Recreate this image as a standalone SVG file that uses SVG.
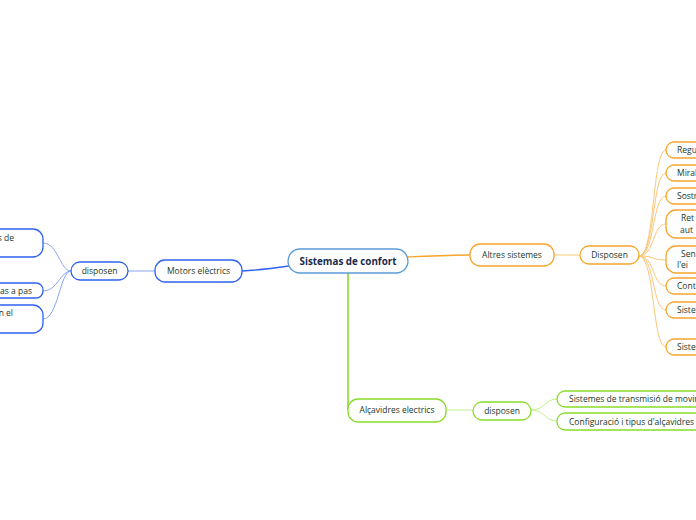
<svg xmlns="http://www.w3.org/2000/svg" width="696" height="520" viewBox="0 0 696 520">
<style>
text{font-family:"Open Sans","Noto Sans","Liberation Sans",sans-serif;font-size:8.5px;fill:#1b3829}
.b rect{fill:#fff;stroke:#2f62f0;stroke-width:1.3}
.o rect{fill:#fff;stroke:#f7a52b;stroke-width:1.3}
.g rect{fill:#fff;stroke:#8bdc2a;stroke-width:1.3}
.c{fill:none}
.cb{stroke:#2f62f0;stroke-width:1.4}
.cbl{stroke:#8aa6f5;stroke-width:1}
.co{stroke:#f7a52b;stroke-width:1.4}
.col{stroke:#fbc67a;stroke-width:1}
.cg{stroke:#8bdc2a;stroke-width:1.6}
.cgl{stroke:#c2ee8d;stroke-width:1}
</style>
<g id="connectors" class="c">
<path class="cb" d="M242,271 C260,270 275,268 289,266"/>
<path class="cbl" d="M128,271 H155"/>
<path class="cbl" d="M71,271 C60,271 58,243 43,243"/>
<path class="cbl" d="M71,271 C60,271 58,291 43,291"/>
<path class="cbl" d="M71,271 C60,271 58,319 43,319"/>
<path class="co" d="M407,257 C430,256 450,255 470,255"/>
<path class="col" d="M554,255 H580"/>
<path class="col" d="M639,256 C655,256 652,150 666,150"/>
<path class="col" d="M639,256 C655,256 652,173 666,173"/>
<path class="col" d="M639,256 C655,256 652,196 666,196"/>
<path class="col" d="M639,256 C655,256 652,224 666,224"/>
<path class="col" d="M639,256 C655,256 652,260 666,260"/>
<path class="col" d="M639,256 C655,256 652,286 666,286"/>
<path class="col" d="M639,256 C655,256 652,310 666,310"/>
<path class="col" d="M639,256 C655,256 652,347 666,347"/>
<path class="cg" d="M348,273 V410"/>
<path class="cgl" d="M446,410 H473"/>
<path class="cgl" d="M531,410 C545,410 545,399 557,399"/>
<path class="cgl" d="M531,410 C545,410 545,421 557,421"/>
</g>
<g id="central"><rect x="288" y="249" width="120" height="24" rx="12" fill="#fff" stroke="#5b9bd5" stroke-width="1.3"/><text x="348" y="265" text-anchor="middle" style="font-size:9.8px;font-weight:bold;fill:#1a2a4a">Sistemas de confort</text></g>
<g id="motors" class="b"><rect x="155" y="260" width="87" height="22" rx="10"/><text x="198.5" y="274" text-anchor="middle">Motors elèctrics</text></g>
<g id="disposen-m" class="b"><rect x="71" y="262" width="57" height="18" rx="9"/><text x="99.5" y="274" text-anchor="middle">disposen</text></g>
<g id="m1" class="b"><rect x="-60" y="229" width="103" height="28" rx="10"/><text x="14" y="241" text-anchor="end">s de</text></g>
<g id="m2" class="b"><rect x="-60" y="283" width="103" height="15" rx="7"/><text x="32" y="294" text-anchor="end">pas a pas</text></g>
<g id="m3" class="b"><rect x="-60" y="305" width="103" height="28" rx="10"/><text x="13" y="316" text-anchor="end">n el</text></g>
<g id="altres" class="o"><rect x="470" y="244" width="84" height="22" rx="10"/><text x="512" y="258" text-anchor="middle">Altres sistemes</text></g>
<g id="disposen-a" class="o"><rect x="580" y="246" width="59" height="18" rx="9"/><text x="609.5" y="258" text-anchor="middle">Disposen</text></g>
<g id="a1" class="o"><rect x="666" y="142" width="80" height="16" rx="8"/><text x="677" y="153">Regu</text></g>
<g id="a2" class="o"><rect x="666" y="165" width="80" height="16" rx="8"/><text x="677" y="176">Miral</text></g>
<g id="a3" class="o"><rect x="666" y="188" width="80" height="16" rx="8"/><text x="677" y="199">Sostr</text></g>
<g id="a4" class="o"><rect x="666" y="210" width="80" height="28" rx="10"/><text x="681" y="221">Ret</text><text x="680" y="233">aut</text></g>
<g id="a5" class="o"><rect x="666" y="246" width="80" height="27" rx="10"/><text x="681" y="257">Sen</text><text x="677" y="268">l'ei</text></g>
<g id="a6" class="o"><rect x="666" y="278" width="80" height="16" rx="8"/><text x="677" y="289">Cont</text></g>
<g id="a7" class="o"><rect x="666" y="302" width="80" height="16" rx="8"/><text x="677" y="313">Sister</text></g>
<g id="a8" class="o"><rect x="666" y="339" width="80" height="16" rx="8"/><text x="677" y="350">Sister</text></g>
<g id="alcavidres" class="g"><rect x="348" y="399" width="98" height="23" rx="10"/><text x="397" y="413" text-anchor="middle">Alçavidres electrics</text></g>
<g id="disposen-g" class="g"><rect x="473" y="402" width="58" height="18" rx="9"/><text x="502" y="414" text-anchor="middle">disposen</text></g>
<g id="g1" class="g"><rect x="557" y="391" width="160" height="16" rx="8"/><text x="569" y="402">Sistemes de transmisió de movim</text></g>
<g id="g2" class="g"><rect x="557" y="413" width="145" height="17" rx="8"/><text x="569" y="425">Configuració i tipus d'alçavidres</text></g>
</svg>
